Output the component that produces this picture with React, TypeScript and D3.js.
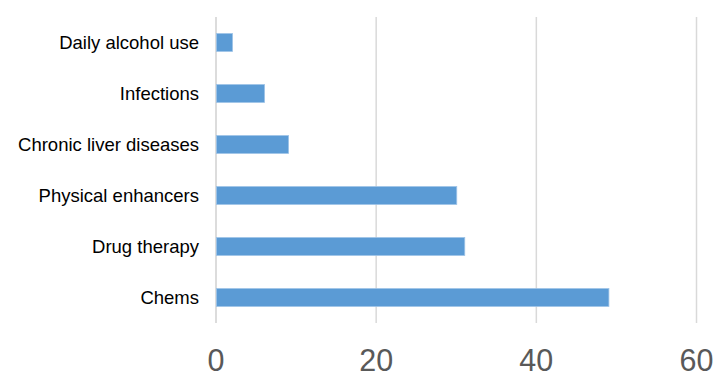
import React from "react";
import * as d3 from "d3";

const categories = ["Daily alcohol use", "Infections", "Chronic liver diseases", "Physical enhancers", "Drug therapy", "Chems"];
const values = [2, 6, 9, 30, 31, 49];
const xTicks = [0, 20, 40, 60];

export default function App() {
  const W = 715, H = 371;
  const x = d3.scaleLinear().domain([0, 60]).range([216, 696.5]);
  const y = d3.scaleBand<string>().domain(categories).range([17, 323]).paddingInner(0.65).paddingOuter(0.325);
  return (
    <svg width={W} height={H} style={{ position: "absolute", left: 0, top: 0, background: "#fff" }}
      fontFamily="'Liberation Sans', Arial, sans-serif">
      {xTicks.map((t) => (
        <line key={"g" + t} x1={x(t)} x2={x(t)} y1={17} y2={323}
          stroke={t === 0 ? "#d0d0d0" : "#d9d9d9"} strokeWidth={1.5} />
      ))}
      {categories.map((c, i) => (
        <rect key={c} x={x(0) + 0.5} y={y(c)!} width={x(values[i]) - x(0)} height={y.bandwidth()}
          fill="#5b9bd5" stroke="#9dc3e6" strokeWidth={0.8} />
      ))}
      {categories.map((c) => (
        <text key={"l" + c} x={199} y={y(c)! + y.bandwidth() / 2} dy="0.35em" textAnchor="end"
          fontSize={18.5} fill="#000">{c}</text>
      ))}
      {xTicks.map((t) => (
        <text key={"t" + t} x={x(t)} y={370.5} textAnchor="middle" fontSize={30.5} fill="#595959">{t}</text>
      ))}
    </svg>
  );
}
